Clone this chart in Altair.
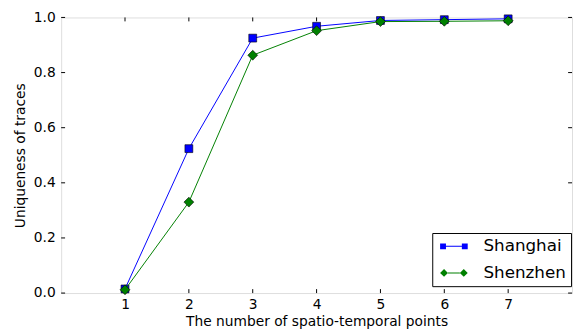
import altair as alt
import pandas as pd

points = [1, 2, 3, 4, 5, 6, 7]
shanghai = [0.015, 0.524, 0.925, 0.968, 0.989, 0.992, 0.995]
shenzhen = [0.012, 0.330, 0.863, 0.952, 0.985, 0.986, 0.988]
series_names = ["Shanghai", "Shenzhen"]
series_colors = ["#0000ff", "#008000"]
x_ticks = [1, 2, 3, 4, 5, 6, 7]
y_ticks = [0.0, 0.2, 0.4, 0.6, 0.8, 1.0]

rows = []
for name, vals in zip(series_names, [shanghai, shenzhen]):
    for p, v in zip(points, vals):
        rows.append({"x": p, "value": v, "series": name})
df = pd.DataFrame(rows)

W, H = 519, 280
FONT = "DejaVu Sans"

xs = alt.Scale(domain=[0, 8], nice=False, zero=False)
ys = alt.Scale(domain=[0, 1], nice=False)

x_enc = alt.X("x:Q", scale=xs,
              axis=alt.Axis(values=x_ticks, format="d", tickSize=0, domain=False, grid=False,
                            labelFontSize=14, labelFont=FONT, labelColor="black", labelPadding=5,
                            title="The number of spatio-temporal points", titleFontSize=14,
                            titleFont=FONT, titleFontWeight="normal", titleColor="black",
                            titlePadding=3))
y_enc = alt.Y("value:Q", scale=ys,
              axis=alt.Axis(values=y_ticks, format=".1f", tickSize=0, domain=False, grid=False,
                            labelFontSize=14, labelFont=FONT, labelColor="black", labelPadding=6,
                            title="Uniqueness of traces", titleFontSize=14, titleFont=FONT,
                            titleFontWeight="normal", titleColor="black", titlePadding=6))

base = alt.Chart(df)

layers = []
shapes = ["square", "diamond"]
sizes = [64, 100]
for name, col, shp, sz in zip(series_names, series_colors, shapes, sizes):
    sub = base.transform_filter(alt.datum.series == name)
    layers.append(sub.mark_line(color=col, strokeWidth=1).encode(x=x_enc, y=y_enc))
    layers.append(sub.mark_point(shape=shp, filled=True, fill=col, stroke="black",
                                 strokeWidth=0.6, size=sz, opacity=1).encode(x="x:Q", y="value:Q"))

# legend-only layer (no marks drawn); symbol unit = 8.5 px
sq_path = ("M-0.65,-0.35H0.05V0.35H-0.65Z M1.95,-0.35H2.65V0.35H1.95Z "
           "M0.05,-0.06H1.95V0.06H0.05Z")
di_path = ("M-0.65,0L-0.18,-0.47L0.29,0L-0.18,0.47Z M1.71,0L2.18,-0.47L2.65,0L2.18,0.47Z "
           "M0.29,-0.06H1.71V0.06H0.29Z")
leg = alt.Legend(title=None, orient="none", legendX=377, legendY=219,
                 strokeColor="black", fillColor="white", padding=5, cornerRadius=0,
                 labelFontSize=17, labelFont=FONT, labelColor="black", labelOffset=30,
                 symbolSize=289, symbolOpacity=1, symbolStrokeWidth=0, rowPadding=9,
                 symbolLimit=0)
legend_layer = base.transform_filter(alt.datum.x < 0).mark_point(filled=True, size=289).encode(
    x="x:Q", y="value:Q",
    color=alt.Color("series:N", scale=alt.Scale(domain=series_names, range=series_colors), legend=leg),
    shape=alt.Shape("series:N", scale=alt.Scale(domain=series_names, range=[sq_path, di_path]), legend=leg),
)

# inward ticks on all four sides
xt = pd.DataFrame({"t": x_ticks})
yt = pd.DataFrame({"t": y_ticks})
tick_bottom = alt.Chart(xt).mark_rule(color="black", strokeWidth=1).encode(
    x=alt.X("t:Q", scale=xs), y=alt.value(H), y2=alt.value(H - 4))
tick_top = alt.Chart(xt).mark_rule(color="black", strokeWidth=1).encode(
    x=alt.X("t:Q", scale=xs), y=alt.value(0), y2=alt.value(4))
tick_left = alt.Chart(yt).mark_rule(color="black", strokeWidth=1).encode(
    y=alt.Y("t:Q", scale=ys), x=alt.value(0), x2=alt.value(4))
tick_right = alt.Chart(yt).mark_rule(color="black", strokeWidth=1).encode(
    y=alt.Y("t:Q", scale=ys), x=alt.value(W), x2=alt.value(W - 4))

chart = alt.layer(tick_bottom, tick_top, tick_left, tick_right, *layers, legend_layer).properties(
    width=W, height=H,
    autosize=alt.AutoSizeParams(type="none"),
    padding={"left": 54, "top": 7, "right": 2, "bottom": 40},
).configure_view(stroke="black", strokeWidth=1).configure(background="white")

chart.save("out.html", embed_options={"renderer": "svg", "actions": False})
